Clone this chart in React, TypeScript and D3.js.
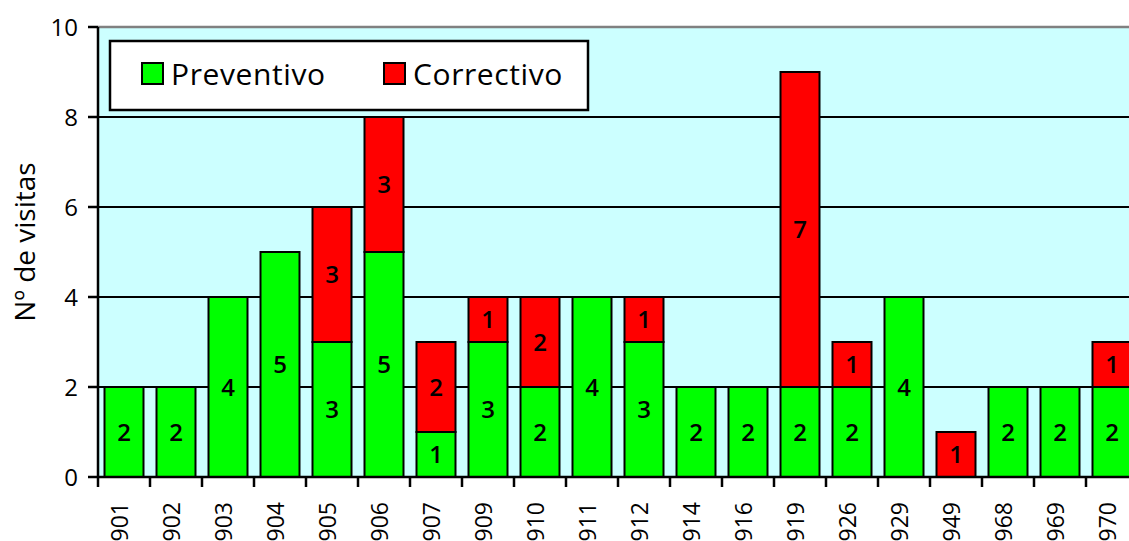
import React from "react";
import * as d3 from "d3";

const categories = ["901", "902", "903", "904", "905", "906", "907", "909", "910", "911", "912", "914", "916", "919", "926", "929", "949", "968", "969", "970"];
const preventivo = [2, 2, 4, 5, 3, 5, 1, 3, 2, 4, 3, 2, 2, 2, 2, 4, 0, 2, 2, 2];
const correctivo = [0, 0, 0, 0, 3, 3, 2, 1, 2, 0, 1, 0, 0, 7, 1, 0, 1, 0, 0, 1];
const yTicks = [0, 2, 4, 6, 8, 10];
const seriesNames = ["Preventivo", "Correctivo"];
const seriesColors = ["#00ff00", "#ff0000"];

const W = 1129;
const H = 541;
const left = 98;
const top = 27;
const bottom = 477;
const font = "'Open Sans', sans-serif";

const App = () => {
  const x = d3
    .scaleBand()
    .domain(categories)
    .range([left, left + 52 * categories.length])
    .paddingInner(0.25)
    .paddingOuter(0.125);

  const y = d3.scaleLinear().domain([0, 10]).range([bottom, top]);

  const rows = categories.map((c, i) => ({ cat: c, Preventivo: preventivo[i], Correctivo: correctivo[i] }));
  const stacked = d3.stack().keys(seriesNames)(rows as any);

  const right = x.range()[1];

  return (
    <svg width={W} height={H} style={{ position: "absolute", left: 0, top: 0, background: "#fff" }} fontFamily={font}>
      {/* plot area */}
      <rect x={left} y={top} width={right - left} height={bottom - top} fill="#ccffff" />
      <line x1={left} x2={right} y1={top} y2={top} stroke="#808080" strokeWidth={2.5} />
      {yTicks.slice(1, -1).map((t) => (
        <line key={t} x1={left} x2={right} y1={y(t)} y2={y(t)} stroke="#000" strokeWidth={2} />
      ))}

      {/* bars */}
      {stacked.map((s, si) =>
        s.map((d, i) => {
          const v = d[1] - d[0];
          if (v <= 0) return null;
          const bx = x(categories[i])!;
          return (
            <g key={`${si}-${i}`}>
              <rect
                x={bx}
                y={y(d[1])}
                width={x.bandwidth()}
                height={y(d[0]) - y(d[1])}
                fill={seriesColors[si]}
                stroke="#000"
                strokeWidth={2}
              />
              <text
                x={bx + x.bandwidth() / 2}
                y={(y(d[0]) + y(d[1])) / 2}
                dy="0.36em"
                textAnchor="middle"
                fontSize={24}
                fontWeight={600}
              >
                {v}
              </text>
            </g>
          );
        })
      )}

      {/* axes */}
      <line x1={left} x2={left} y1={top} y2={bottom} stroke="#000" strokeWidth={2.5} />
      <line x1={left} x2={right} y1={bottom} y2={bottom} stroke="#000" strokeWidth={2.5} />
      {yTicks.map((t) => (
        <g key={t}>
          <line x1={left - 10} x2={left} y1={y(t)} y2={y(t)} stroke="#000" strokeWidth={2.5} />
          <text x={78} y={y(t)} dy="0.36em" textAnchor="end" fontSize={24}>
            {t}
          </text>
        </g>
      ))}
      {categories.map((c, i) => {
        const bx = left + x.step() * i;
        return (
          <line key={c} x1={bx} x2={bx} y1={bottom} y2={bottom + 10} stroke="#000" strokeWidth={2.5} />
        );
      })}
      {categories.map((c) => (
        <text
          key={c}
          transform={`translate(${x(c)! + x.bandwidth() / 2 + 4},502) rotate(-90)`}
          textAnchor="end"
          fontSize={23}
        >
          {c}
        </text>
      ))}
      <text transform="translate(35,242) rotate(-90)" textAnchor="middle" fontSize={28}>
        Nº de visitas
      </text>

      {/* legend */}
      <rect x={110} y={41} width={478} height={69} fill="#fff" stroke="#000" strokeWidth={2.5} />
      {seriesNames.map((n, i) => {
        const lx = i === 0 ? 142 : 384;
        return (
          <g key={n}>
            <rect x={lx} y={63} width={21} height={21} fill={seriesColors[i]} stroke="#000" strokeWidth={2} />
            <text x={lx + 29} y={85} fontSize={30} letterSpacing={0.6}>
              {n}
            </text>
          </g>
        );
      })}
    </svg>
  );
};

export default App;
